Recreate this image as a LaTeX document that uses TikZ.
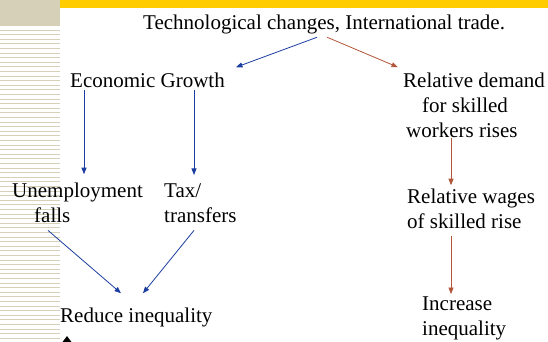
\documentclass[tikz,border=0pt]{standalone}
\usepackage{fontspec}
\setmainfont{Liberation Serif}
\usepackage{tikz}
\usetikzlibrary{arrows.meta, positioning, calc}

\definecolor{slideyellow}{RGB}{255,204,0}
\definecolor{slidebeige}{RGB}{214,208,184}
\definecolor{growthblue}{RGB}{28,62,160}
\definecolor{skillred}{RGB}{178,86,58}

\begin{document}
\begin{tikzpicture}[x=1pt, y=-1pt,
    txt/.style={inner sep=0pt, anchor=base west, align=left, font=\fontsize{21}{25}\selectfont},
    bluearrow/.style={draw=growthblue, line width=0.8pt, -{Triangle[length=6.5pt, width=5pt]}},
    redarrow/.style={draw=skillred, line width=0.8pt, -{Triangle[length=6.5pt, width=5pt]}}
]
    % slide frame
    \useasboundingbox (0,0) rectangle (548,341);
    \fill[white] (0,0) rectangle (548,341);
    \fill[slidebeige] (0,0) rectangle (60,26);
    \fill[slideyellow] (60,0) rectangle (548,8);
    \foreach \y in {0,...,67}
        \draw[slidebeige, line width=1pt] (0,30+4.6*\y) -- (60,30+4.6*\y);
    \fill[black] (67,336) -- (73,344) -- (61,344) -- cycle;

    % texts (multi-line nodes sit on their last line)
    \node[txt] (tech) at (143,29) {Technological changes, International trade.};
    \node[txt] (growth) at (70,87) {Economic Growth};
    \node[txt] (demand) at (403,137) {Relative demand\\\hspace*{19pt}for skilled\\\hspace*{3pt}workers rises};
    \node[txt] (unemp) at (12,222) {Unemployment\\\hspace*{22pt}falls};
    \node[txt] (tax) at (164,222) {Tax/\\transfers};
    \node[txt] (wages) at (407,228) {Relative wages\\of skilled rise};
    \node[txt] (reduce) at (60,322) {Reduce inequality};
    \node[txt] (incineq) at (422,335) {Increase\\inequality};

    % left branch
    \draw[bluearrow] ([xshift=-7pt, yshift=-3.5pt]tech.south) -- ([xshift=11pt, yshift=5pt]growth.north east);
    \draw[bluearrow, shorten >=8pt] ([xshift=14pt, yshift=-2.5pt]growth.south west) coordinate (g1) -- (g1 |- unemp.north);
    \draw[bluearrow, shorten >=8pt] ([xshift=124pt, yshift=-2.5pt]growth.south west) coordinate (g2) -- (g2 |- tax.north);
    \draw[bluearrow] ([xshift=36pt, yshift=-8pt]unemp.south west) -- ([xshift=61pt, yshift=14pt]reduce.north west);
    \draw[bluearrow] ([xshift=30pt, yshift=-8pt]tax.south west) -- ([xshift=83pt, yshift=14pt]reduce.north west);

    % right branch
    \draw[redarrow] ([xshift=3pt, yshift=-3.5pt]tech.south) -- ([xshift=-5pt, yshift=5pt]demand.north west);
    \draw[redarrow, shorten >=3pt] ([xshift=48pt, yshift=-1pt]demand.south west) coordinate (d1) -- (d1 |- wages.north);
    \draw[redarrow, shorten >=2pt] ([xshift=44pt, yshift=-8pt]wages.south west) coordinate (w1) -- (w1 |- incineq.north);
\end{tikzpicture}
\end{document}
